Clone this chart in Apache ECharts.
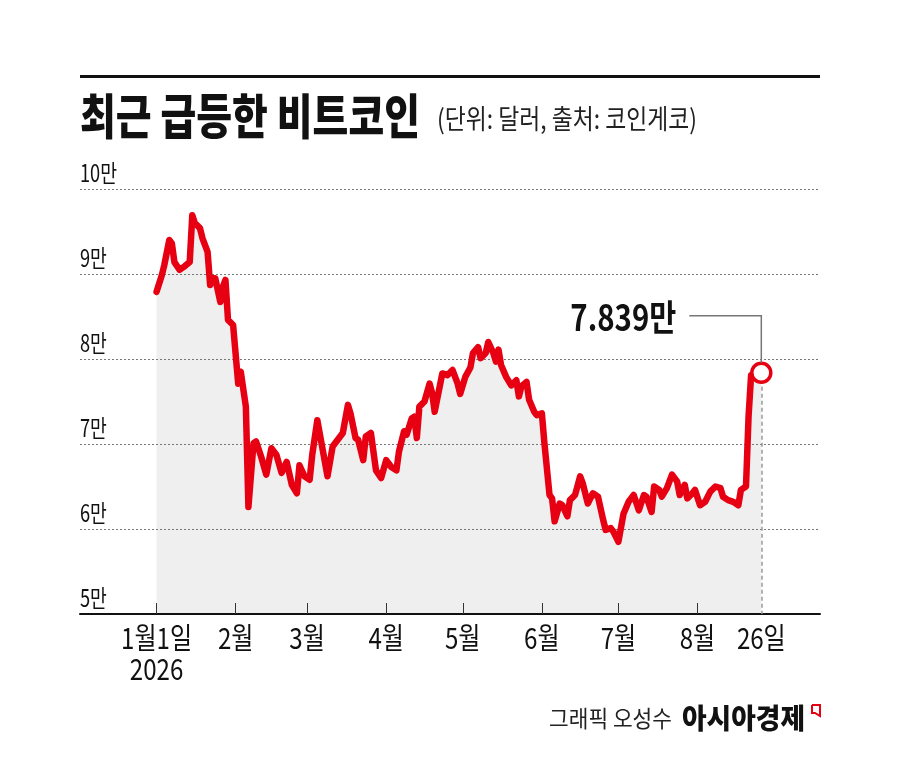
<!DOCTYPE html>
<html><head><meta charset="utf-8">
<script src="https://cdn.jsdelivr.net/npm/echarts@6/dist/echarts.min.js"></script>
<style>html,body{margin:0;padding:0;background:#fff}#c{width:900px;height:758px}</style>
</head><body><div id="c"></div>
<script>
const dates = [
'2026-01-01','2026-01-03','2026-01-04','2026-01-06','2026-01-07','2026-01-08','2026-01-10','2026-01-12','2026-01-14','2026-01-15',
'2026-01-16','2026-01-18','2026-01-19','2026-01-21','2026-01-22','2026-01-23','2026-01-24','2026-01-26','2026-01-27','2026-01-28',
'2026-01-29','2026-01-31','2026-02-02','2026-02-03','2026-02-05','2026-02-06','2026-02-08','2026-02-09','2026-02-11','2026-02-13',
'2026-02-15','2026-02-17','2026-02-19','2026-02-21','2026-02-23','2026-02-25','2026-02-26','2026-02-28','2026-03-02','2026-03-03',
'2026-03-05','2026-03-07','2026-03-09','2026-03-11','2026-03-13','2026-03-15','2026-03-17','2026-03-18','2026-03-20','2026-03-21',
'2026-03-23','2026-03-24','2026-03-26','2026-03-28','2026-03-30','2026-04-01','2026-04-03','2026-04-05','2026-04-06','2026-04-08',
'2026-04-09','2026-04-11','2026-04-12','2026-04-13','2026-04-14','2026-04-16','2026-04-18','2026-04-19','2026-04-20','2026-04-22',
'2026-04-23','2026-04-25','2026-04-27','2026-04-29','2026-04-30','2026-05-02','2026-05-04','2026-05-05','2026-05-07','2026-05-08',
'2026-05-10','2026-05-11','2026-05-13','2026-05-14','2026-05-15','2026-05-16','2026-05-18','2026-05-20','2026-05-22','2026-05-23',
'2026-05-24','2026-05-26','2026-05-27','2026-05-29','2026-05-30','2026-06-01','2026-06-02','2026-06-04','2026-06-05','2026-06-06',
'2026-06-08','2026-06-09','2026-06-11','2026-06-12','2026-06-14','2026-06-16','2026-06-17','2026-06-19','2026-06-21','2026-06-23',
'2026-06-25','2026-06-26','2026-06-28','2026-06-29','2026-07-01','2026-07-03','2026-07-05','2026-07-07','2026-07-09','2026-07-11',
'2026-07-12','2026-07-14','2026-07-15','2026-07-17','2026-07-18','2026-07-20','2026-07-22','2026-07-24','2026-07-25','2026-07-27',
'2026-07-28','2026-07-30','2026-07-31','2026-08-02','2026-08-04','2026-08-06','2026-08-08','2026-08-10','2026-08-11','2026-08-13',
'2026-08-15','2026-08-17','2026-08-18','2026-08-20','2026-08-21','2026-08-22','2026-08-24','2026-08-26'
];
const prices = [
87900,89800,91000,94000,93600,91400,90500,90900,91400,96900,
96000,95400,94200,92600,88700,89500,89500,86700,88500,89300,
84600,84000,77100,78500,74400,62600,70100,70300,68500,66400,
69500,68700,66600,67900,65200,64200,67500,66200,65800,68700,
72800,69500,66200,69700,70500,71300,74600,73600,70700,70500,
68100,70900,71300,66900,66000,68100,67300,66900,69100,71500,
71100,73000,73200,70700,74400,75000,77100,76000,73800,76800,
78300,78100,78700,77100,75900,77900,79000,80700,81400,80100,
80700,82000,80700,79700,81100,79300,77900,76900,77500,75600,
76800,77300,75200,73800,73400,73600,70100,64000,63600,60900,
63000,62800,61500,63400,64000,66200,65400,63000,64200,63800,
61100,59900,60100,59700,58500,61800,63200,64000,62200,64000,
63800,62000,65000,64600,63800,64800,66400,65600,64000,65200,
63600,64200,64600,62800,63200,64400,65000,64800,63800,63400,
63200,62800,64600,65000,73200,78100,78300,78390
];
const yTickValues = [50000,60000,70000,80000,90000,100000];
const yTickLabels = ['5만','6만','7만','8만','9만','10만'];
const tickDates = ['2026-01-01','2026-02-01','2026-03-01','2026-04-01','2026-05-01','2026-06-01','2026-07-01','2026-08-01'];
const xLabelDates = ['2026-01-01','2026-02-01','2026-03-01','2026-04-01','2026-05-01','2026-06-01','2026-07-01','2026-08-01','2026-08-26'];
const xLabelTexts = ['1월1일\n2026','2월','3월','4월','5월','6월','7월','8월','26일'];
const axisStart = '2025-12-02';
const axisEnd = '2026-09-18';
const lastLabel = '7.839만';
const titleText = '최근 급등한 비트코인';
const subtitleText = '(단위: 달러, 출처: 코인게코)';
const creditText = '그래픽 오성수';
const brandText = '아시아경제';

const FONT = '"Noto Sans CJK KR", "Noto Sans", sans-serif';
const RED = '#e60012';
// day number since 2026-01-01 (data value on the x axis)
function dayNum(s){ const p = s.split('-').map(Number); return Math.round((Date.UTC(p[0], p[1]-1, p[2]) - Date.UTC(2026,0,1)) / 86400000); }
const seriesData = dates.map((d,i)=>[dayNum(d), prices[i]]);
const lastPoint = seriesData[seriesData.length-1];

const mctx = document.createElement('canvas').getContext('2d');
function measure(str, size, weight){ mctx.font = weight + ' ' + size + 'px ' + FONT; return mctx.measureText(str).width; }
function textEl(str, x, y, w, size, weight, color, align){
  const mw = measure(str, size, weight) || w;
  return { type:'text', x:x, y:y, scaleX: w/mw, z:10, silent:true,
    style:{ text:str, fontSize:size, fontWeight:weight, fontFamily:FONT, fill:color, align: align||'left', verticalAlign:'middle' } };
}
function scaledEl(str, x, y, sx, size, weight, color, align){
  return { type:'text', x:x, y:y, scaleX: sx, z:10, silent:true,
    style:{ text:str, fontSize:size, fontWeight:weight, fontFamily:FONT, fill:color, align: align||'left', verticalAlign:'middle' } };
}

const chart = echarts.init(document.getElementById('c'), null, {renderer:'canvas'});
chart.setOption({
  animation:false,
  backgroundColor:'#fff',
  grid:{ left:80, right:80, top:189, bottom:144, containLabel:false },
  xAxis:{ type:'value', min:dayNum(axisStart), max:dayNum(axisEnd), z:4,
    axisLine:{ show:true, lineStyle:{ color:'#111', width:2 } },
    axisTick:{ show:true, inside:true, length:11, lineStyle:{ color:'#333', width:1 }, customValues: tickDates.map(dayNum) },
    axisLabel:{ show:false },
    splitLine:{ show:false } },
  yAxis:{ type:'value', min:yTickValues[0], max:yTickValues[yTickValues.length-1], interval:10000, z:2,
    axisLine:{ show:false }, axisTick:{ show:false }, axisLabel:{ show:false },
    splitLine:{ show:true, lineStyle:{ type:[2,2], color:'#777', width:1 } } },
  series:[
    { type:'line', data:seriesData, symbol:'none', z:1, silent:true,
      lineStyle:{ width:0 }, areaStyle:{ color:'#efefef', opacity:1, origin:'start' } },
    { type:'line', data:seriesData, symbol:'none', z:3,
      lineStyle:{ width:6.5, color:RED, cap:'round', join:'round' },
      markLine:{ silent:true, symbol:'none', label:{show:false}, lineStyle:{ type:[4,3], color:'#999', width:1.5 },
        data:[[ {coord:[lastPoint[0], lastPoint[1]]}, {coord:[lastPoint[0], yTickValues[0]]} ]] } },
    { type:'scatter', data:[lastPoint], symbol:'circle', symbolSize:19, z:5,
      itemStyle:{ color:'#fff', borderColor:RED, borderWidth:3.5, opacity:1 } }
  ]
});

const p = chart.convertToPixel({gridIndex:0}, lastPoint);
const graphics = [
  { type:'rect', shape:{ x:80, y:75, width:740, height:3 }, style:{ fill:'#111' }, z:10 },
  textEl(titleText, 80, 116, 340, 48, 900, '#111', 'left'),
  textEl(subtitleText, 437, 119, 260, 27, 'normal', '#222', 'left'),
  { type:'polyline', shape:{ points:[[p[0]-72, p[1]-57],[p[0], p[1]-57],[p[0], p[1]-10]] }, style:{ stroke:'#777', lineWidth:1.5, fill:null }, z:10 },
  textEl(lastLabel, p[0]-85, p[1]-55, 106, 36, 'bold', '#111', 'right'),
  textEl(creditText, 549, 718, 123, 23, 'normal', '#222', 'left'),
  textEl(brandText, 682, 718, 123, 28, 900, '#111', 'left'),
  { type:'polyline', shape:{ points:[[812,705],[820,705],[820,716],[815,713],[812,713],[812,705]] }, style:{ stroke:RED, lineWidth:2, fill:null }, z:10 }
];
// y-axis labels, placed through the axis scale
yTickValues.forEach((v,i)=>{
  const py = chart.convertToPixel({yAxisIndex:0}, v);
  graphics.push(scaledEl(yTickLabels[i], 80, py-16, 0.76, 24, 'normal', '#111', 'left'));
});
// x-axis labels, placed through the axis scale
const axisY = chart.convertToPixel({yAxisIndex:0}, yTickValues[0]);
xLabelDates.forEach((d,i)=>{
  const px = chart.convertToPixel({xAxisIndex:0}, dayNum(d));
  xLabelTexts[i].split('\n').forEach((line, j)=>{
    graphics.push(scaledEl(line, px, axisY + 24 + 31*j, 0.83, 29, 'normal', '#111', 'center'));
  });
});
chart.setOption({ graphic: graphics });
</script>
</body></html>
